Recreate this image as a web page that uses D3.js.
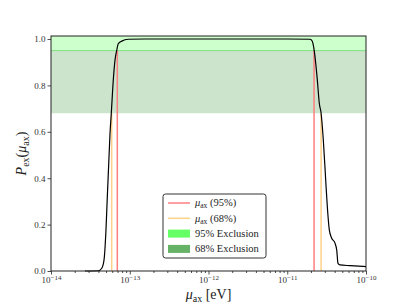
<!DOCTYPE html>
<html>
<head>
<meta charset="utf-8">
<script src="https://cdn.jsdelivr.net/npm/d3@7"></script>
<style>
  body { margin: 0; background: #fff; }
</style>
</head>
<body>
<div id="chart"></div>
<script>
// exclusion probability curve
const muValues = [2.7e-14, 3.99e-14, 4.41e-14, 4.71e-14, 4.99e-14, 5.19e-14, 5.41e-14, 5.61e-14, 5.83e-14,
  6.18e-14, 6.5e-14, 6.82e-14, 7.16e-14, 7.91e-14, 9.59e-14, 1.56e-13, 1e-12, 1e-11, 1.95e-11,
  2.08e-11, 2.2e-11, 2.41e-11, 2.55e-11, 2.69e-11, 2.87e-11, 3.08e-11, 3.27e-11, 3.42e-11, 3.66e-11,
  4.04e-11, 4.25e-11, 4.41e-11, 4.68e-11, 6.27e-11, 1e-10]
const pexValues = [0, 0.001, 0.012, 0.047, 0.177, 0.32, 0.464, 0.59, 0.68,
  0.823, 0.909, 0.95, 0.98, 0.991, 0.999, 1.0, 1.0, 1.0, 0.999,
  0.99, 0.95, 0.823, 0.724, 0.68, 0.565, 0.39, 0.25, 0.177, 0.142,
  0.12, 0.09, 0.033, 0.026, 0.023, 0.019]

const mu95 = [6.95e-14, 2.19e-11]
const mu68 = [5.9e-14, 2.69e-11]
const level95 = 0.95
const level68 = 0.68

const yTicks = [0, 0.2, 0.4, 0.6, 0.8, 1.0]
const xTicks = [1e-14, 1e-13, 1e-12, 1e-11, 1e-10]
const legendLabels = ['(95%)', '(68%)', '95% Exclusion', '68% Exclusion']

const serif = '"Liberation Serif", "Times New Roman", "DejaVu Serif", serif'
const width = 407
const height = 305
const margin = {left: 51, right: 41, top: 36, bottom: 34}

const svg = d3.select('#chart').append('svg')
  .attr('width', width)
  .attr('height', height)
  .style('font-family', serif)

const xScale = d3.scaleLog()
  .domain([1e-14, 1e-10])
  .range([margin.left, width - margin.right])

const yScale = d3.scaleLinear()
  .domain([0, 1.013])
  .range([height - margin.bottom, margin.top])

const plotW = width - margin.left - margin.right
const plotH = height - margin.top - margin.bottom

// bands
svg.append('rect')
  .attr('x', margin.left)
  .attr('y', margin.top)
  .attr('width', plotW)
  .attr('height', yScale(level95) - margin.top)
  .attr('fill', '#ccffcc')

svg.append('rect')
  .attr('x', margin.left)
  .attr('y', yScale(level95))
  .attr('width', plotW)
  .attr('height', yScale(level68) - yScale(level95))
  .attr('fill', '#cce4cc')

svg.append('line')
  .attr('x1', margin.left).attr('x2', width - margin.right)
  .attr('y1', yScale(level95)).attr('y2', yScale(level95))
  .attr('stroke', '#80e080')
  .attr('stroke-width', 1)

// vertical limit lines
const drawLimits = (arr, level, color) => {
  svg.append('g').selectAll('line')
    .data(arr)
    .enter()
    .append('line')
    .attr('x1', d => xScale(d)).attr('x2', d => xScale(d))
    .attr('y1', yScale(0)).attr('y2', yScale(level))
    .attr('stroke', color)
    .attr('stroke-width', 1.5)
}
drawLimits(mu68, level68, '#ffd089')
drawLimits(mu95, level95, '#ff7f7f')

// curve
const points = muValues.map((m, i) => ({mu: m, p: pexValues[i]}))
const line = d3.line()
  .x(d => xScale(d.mu))
  .y(d => yScale(d.p))
  .curve(d3.curveMonotoneX)

svg.append('path')
  .datum(points)
  .attr('d', line)
  .attr('fill', 'none')
  .attr('stroke', '#000')
  .attr('stroke-width', 1.2)

// axes
const minorTicks = []
for (let k = -14; k < -10; k++) {
  for (let j = 2; j <= 9; j++) minorTicks.push(j * Math.pow(10, k))
}

const xAxis = d3.axisBottom(xScale)
  .tickValues(xTicks)
  .tickSize(3.5)
  .tickPadding(2)
  .tickFormat(d => '10')

const gx = svg.append('g')
  .attr('transform', `translate(0, ${height - margin.bottom})`)
  .call(xAxis)
gx.attr('font-family', null)
gx.select('.domain').remove()
gx.selectAll('text')
  .style('font-size', '9px')
  .style('font-family', serif)
  .attr('fill', '#333')
  .each(function (d) {
    const t = d3.select(this)
    t.append('tspan')
      .attr('dy', '-0.45em')
      .style('font-size', '7px')
      .text('\u2212' + Math.abs(Math.round(Math.log10(d))))
  })

const gxMinor = svg.append('g')
  .attr('transform', `translate(0, ${height - margin.bottom})`)
  .call(d3.axisBottom(xScale).tickValues(minorTicks).tickSize(2).tickFormat(''))
gxMinor.select('.domain').remove()

const yAxis = d3.axisLeft(yScale)
  .tickValues(yTicks)
  .tickSize(3.5)
  .tickPadding(2)
  .tickFormat(d3.format('.1f'))

const gy = svg.append('g')
  .attr('transform', `translate(${margin.left}, 0)`)
  .call(yAxis)
gy.attr('font-family', null)
gy.select('.domain').remove()
gy.selectAll('text')
  .style('font-size', '9px')
  .style('font-family', serif)
  .attr('fill', '#333')

svg.selectAll('.tick line').attr('stroke', '#222').attr('stroke-width', 0.8)

// frame
svg.append('rect')
  .attr('x', margin.left)
  .attr('y', margin.top)
  .attr('width', plotW)
  .attr('height', plotH)
  .attr('fill', 'none')
  .attr('stroke', '#222')
  .attr('stroke-width', 1)

// axis labels
const xLabel = svg.append('text')
  .attr('x', margin.left + plotW / 2)
  .attr('y', 299)
  .attr('text-anchor', 'middle')
  .attr('fill', '#222')
  .style('font-size', '14px')
xLabel.append('tspan').style('font-style', 'italic').text('\u03bc')
xLabel.append('tspan').attr('dy', 3).style('font-size', '10px').text('ax')
xLabel.append('tspan').attr('dy', -3).text(' [eV]')

const yLabel = svg.append('text')
  .attr('transform', `translate(26, ${margin.top + plotH / 2}) rotate(-90)`)
  .attr('text-anchor', 'middle')
  .attr('fill', '#222')
  .style('font-size', '14px')
yLabel.append('tspan').style('font-style', 'italic').text('P')
yLabel.append('tspan').attr('dy', 3).style('font-size', '10px').text('ex')
yLabel.append('tspan').attr('dy', -3).text('(')
yLabel.append('tspan').style('font-style', 'italic').text('\u03bc')
yLabel.append('tspan').attr('dy', 3).style('font-size', '10px').text('ax')
yLabel.append('tspan').attr('dy', -3).text(')')

// legend
const legend = svg.append('g').attr('transform', 'translate(163, 194)')
legend.append('rect')
  .attr('width', 103)
  .attr('height', 64)
  .attr('rx', 2.5)
  .attr('fill', '#fff')
  .attr('stroke', '#333')
  .attr('stroke-width', 1)

const legendKinds = ['line', 'line', 'patch', 'patch']
const legendColors = ['#ff7f7f', '#ffd089', '#66ff66', '#66b266']
const rowY = (i) => 9 + i * 15.3

legendKinds.forEach((kind, i) => {
  if (kind === 'line') {
    legend.append('line')
      .attr('x1', 5).attr('x2', 27)
      .attr('y1', rowY(i)).attr('y2', rowY(i))
      .attr('stroke', legendColors[i])
      .attr('stroke-width', 1.5)
  } else {
    legend.append('rect')
      .attr('x', 5).attr('y', rowY(i) - 4)
      .attr('width', 22).attr('height', 8)
      .attr('fill', legendColors[i])
  }
  const t = legend.append('text')
    .attr('x', 32)
    .attr('y', rowY(i) + 3.3)
    .attr('fill', '#222')
    .style('font-size', '10.5px')
  if (kind === 'line') {
    t.append('tspan').style('font-style', 'italic').text('\u03bc')
    t.append('tspan').attr('dy', 2).style('font-size', '7.5px').text('ax')
    t.append('tspan').attr('dy', -2).text(' ' + legendLabels[i])
  } else {
    t.text(legendLabels[i])
  }
})
</script>
</body>
</html>
